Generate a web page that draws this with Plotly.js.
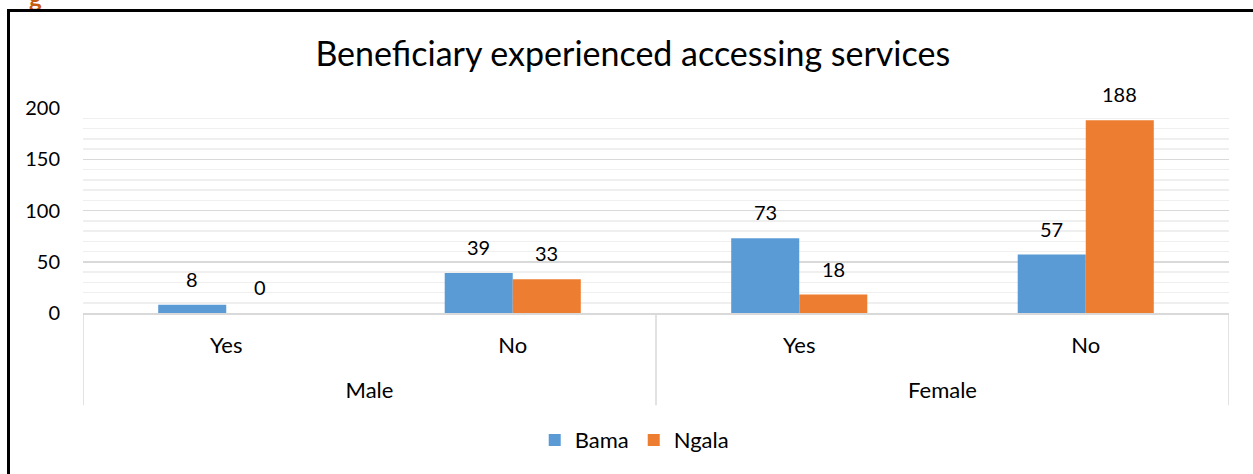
<!DOCTYPE html>
<html>
<head>
<meta charset="utf-8">
<script src="https://cdn.plot.ly/plotly-3.0.1.min.js"></script>
<style>
  html, body { margin:0; padding:0; background:#fff; width:1253px; height:474px; overflow:hidden; }
  #frame { position:absolute; left:7px; top:9px; width:1260px; height:480px; border-top:3px solid #000; border-left:3px solid #000; box-sizing:border-box; }
  #cut { position:absolute; left:29px; top:-17px; font-family:Lato, sans-serif; font-weight:bold; font-size:24px; color:#C55A11; }
  #chart { position:absolute; left:0; top:0; width:1253px; height:474px; }
</style>
</head>
<body>
<div id="cut">g</div>
<div id="frame"></div>
<div id="chart"></div>
<script>
const genders = ["Male", "Male", "Female", "Female"];
const answers = ["Yes", "No", "Yes", "No"];
const bama = [8, 39, 73, 57];
const ngala = [0, 33, 18, 188];
const seriesNames = ["Bama", "Ngala"];
const seriesColors = ["#5B9BD5", "#ED7D31"];
const yTicks = [0, 50, 100, 150, 200];

const fontFam = "Lato, 'Noto Sans', sans-serif";
const idx = answers.map((_, i) => i);
const series = [bama, ngala];
const bargap = 0.525;
const barW = (1 - bargap) / series.length;

const traces = series.map((vals, s) => ({
  type:"bar", name:seriesNames[s], x:idx, y:vals, marker:{color:seriesColors[s]},
  hoverinfo:"y"
}));

// gender groups: centers and boundaries derived from genders array
const groups = [];
genders.forEach((g, i) => {
  const last = groups[groups.length - 1];
  if (last && last.name === g) last.end = i; else groups.push({name:g, start:i, end:i});
});
const groupCenters = groups.map(g => (g.start + g.end) / 2);
const groupNames = groups.map(g => g.name);
const bounds = [groups[0].start - 0.5].concat(groups.map(g => g.end + 0.5));

const shapes = bounds.map(b => ({
  type:"line", xref:"x", yref:"paper", x0:b, x1:b, y0:0, y1:-0.45,
  line:{color:"#D9D9D9", width:1.5}
}));

const annotations = [];
series.forEach((vals, s) => {
  vals.forEach((v, i) => {
    annotations.push({
      xref:"x", yref:"y", x:i + (s - (series.length - 1) / 2) * barW, y:v,
      text:String(v), showarrow:false, yanchor:"bottom", yshift:12,
      font:{size:20, color:"#000", family:fontFam}
    });
  });
});

const layout = {
  width:1253, height:474,
  paper_bgcolor:"rgba(0,0,0,0)", plot_bgcolor:"rgba(0,0,0,0)",
  margin:{l:83, r:24, t:108, b:161},
  font:{family:fontFam, size:20, color:"#000"},
  title:{text:"Beneficiary experienced accessing services", x:0.505, xanchor:"center", y:0.885, yanchor:"middle",
         font:{size:34, family:fontFam, color:"#000"}},
  barmode:"group", bargap:bargap, bargroupgap:0,
  showlegend:true,
  legend:{orientation:"h", x:0.481, xanchor:"center", y:-0.62, yanchor:"middle", font:{size:22}},
  xaxis:{range:[-0.5, answers.length - 0.5], tickvals:idx, ticktext:answers, showline:true, linecolor:"#D9D9D9", linewidth:1.5,
         ticks:"", tickfont:{size:22}, showgrid:false, zeroline:false, ticklabelstandoff:12, fixedrange:true},
  xaxis2:{overlaying:"x", anchor:"y", side:"bottom", range:[-0.5, answers.length - 0.5], tickvals:groupCenters, ticktext:groupNames,
          showline:false, ticks:"", tickfont:{size:22}, showgrid:false, zeroline:false, ticklabelstandoff:62},
  yaxis:{range:[0,200], tickvals:yTicks, ticks:"", showline:false, zeroline:false,
         gridcolor:"#D9D9D9", gridwidth:1.5, ticklabelstandoff:22,
         minor:{dtick:10, showgrid:true, gridcolor:"#EFEFEF", gridwidth:1.5},
         tickfont:{size:20}},
  shapes:shapes,
  annotations:annotations
};
// empty trace so the group-label axis (xaxis2) is drawn
traces.push({type:"scatter", x:[], y:[], xaxis:"x2", yaxis:"y", showlegend:false, hoverinfo:"skip"});
Plotly.newPlot("chart", traces, layout, {displayModeBar:false, staticPlot:true});
</script>
</body>
</html>
